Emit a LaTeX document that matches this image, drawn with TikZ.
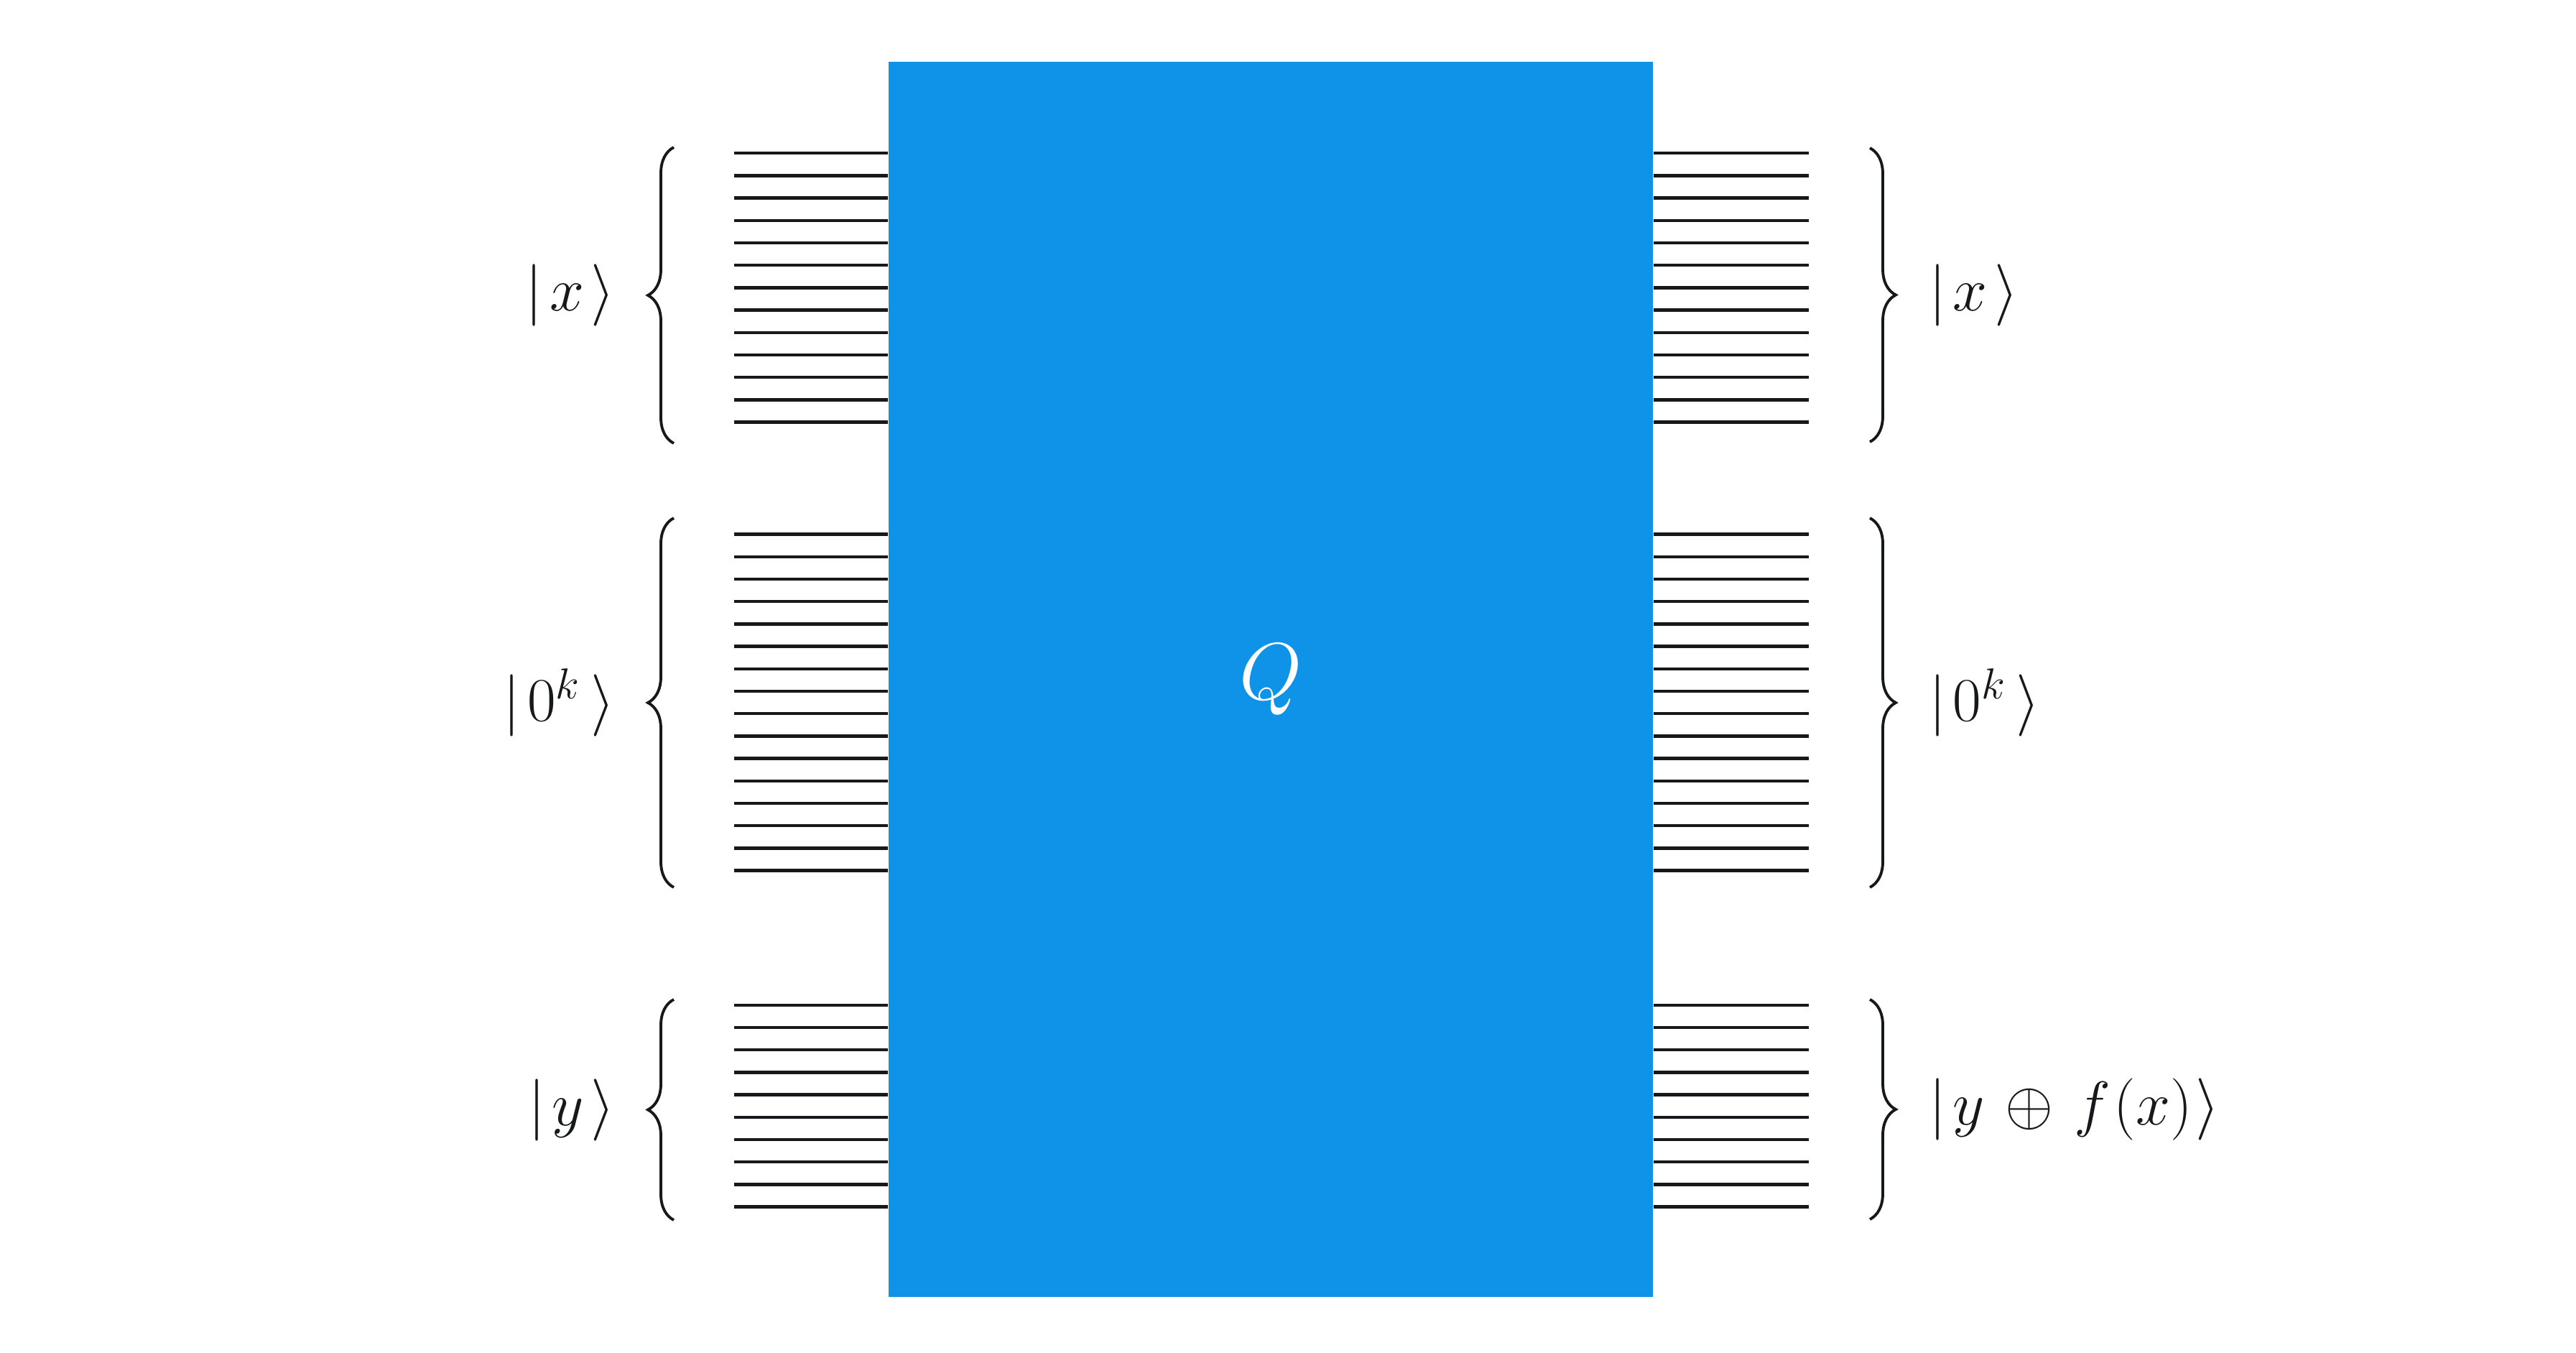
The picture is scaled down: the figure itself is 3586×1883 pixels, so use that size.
\RequirePackage{fix-cm}
\documentclass[tikz,border=0pt]{standalone}
\usepackage{amsmath}
\usepackage{xcolor}
\usepackage{tikz}
\usetikzlibrary{positioning,decorations.pathreplacing}
\definecolor{ink}{HTML}{15191C}
\definecolor{oracleblue}{HTML}{0F93E8}
\newcommand{\ketsize}{\fontsize{24.5}{29}\selectfont}
\tikzset{
  wire/.style={draw=ink,line width=1.25pt},
  brc/.style={draw=ink,line width=1.1pt,decorate,decoration={brace,amplitude=0.36cm}},
  ket/.style={color=ink,inner sep=0pt,font=\ketsize},
}

\begin{document}
\begin{tikzpicture}[x=0.01cm,y=-0.01cm]
  \useasboundingbox (0,0) rectangle (3586,1883);
  %% oracle box
  \node[fill=oracleblue,minimum width=10.64cm,minimum height=17.18cm,inner sep=0pt,
        text=white,font=\fontsize{32}{38}\selectfont] (oracle) at (1769,946) {$Q$};
  %% qubit wires, three registers
  \foreach \first/\last in {0/12,17/32,38/47}{
    \foreach \i in {\first,...,\last}{
      \pgfmathsetmacro{\wy}{213.3+31.2*\i}
      \coordinate (lw) at (1022,\wy);
      \coordinate (rw) at (2518,\wy);
      \draw[wire] (lw) -- (lw -| oracle.west);
      \draw[wire] (oracle.east |- rw) -- (rw);
    }
  }
  %% input braces
  \draw[brc] (938,617) -- node[ket,left=0.8cm] (inx) {$|\mkern2mu x\mkern2mu\rangle$} (938,205);
  \draw[brc] (938,1235) -- node[ket,left=0.8cm] (inanc) {$|\mkern2mu 0^{k}\mkern3mu\rangle$} (938,721);
  \draw[brc] (938,1698) -- node[ket,left=0.8cm] (iny) {$|\mkern2mu y\mkern2mu\rangle$} (938,1391);
  %% output braces
  \draw[brc] (2603,206) -- node[ket,right=0.8cm] (outx) {$|\mkern2mu x\mkern2mu\rangle$} (2603,615);
  \draw[brc] (2603,721) -- node[ket,right=0.8cm] (outanc) {$|\mkern2mu 0^{k}\mkern3mu\rangle$} (2603,1235);
  \draw[brc] (2603,1391) -- node[ket,right=0.8cm] (outy)
    {$|\mkern2mu y\mkern2mu\oplus\mkern2mu f\mkern1mu(x)\mkern1mu\rangle$} (2603,1697);
\end{tikzpicture}
\end{document}
